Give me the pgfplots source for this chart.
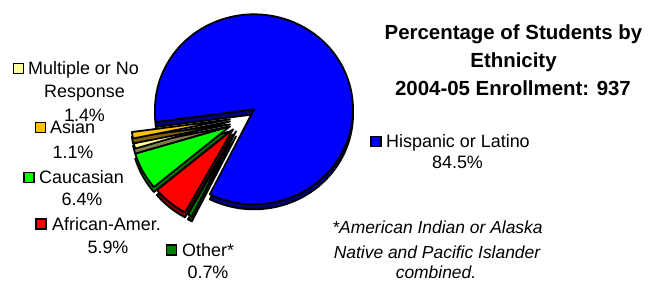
\documentclass[border=0pt]{standalone}
\usepackage{pgfplots}
\pgfplotsset{compat=1.18}
\usepackage{fontspec}
\setmainfont{Liberation Sans}
\definecolor{cHisp}{RGB}{0,0,255}
\definecolor{sHisp}{RGB}{0,0,120}
\definecolor{cAsian}{RGB}{255,192,0}
\definecolor{sAsian}{RGB}{128,96,0}
\definecolor{cMult}{RGB}{255,255,153}
\definecolor{sMult}{RGB}{128,128,76}
\definecolor{cCauc}{RGB}{0,255,0}
\definecolor{sCauc}{RGB}{0,120,0}
\definecolor{cAfr}{RGB}{255,0,0}
\definecolor{sAfr}{RGB}{128,0,0}
\definecolor{cOther}{RGB}{0,128,0}
\definecolor{sOther}{RGB}{0,64,0}
% data (percent)
\def\pHisp{84.5}
\def\pAsian{1.1}
\def\pMult{1.4}
\def\pCauc{6.4}
\def\pAfr{5.9}
\def\pOther{0.7}
\pgfmathsetmacro\aA{187.7}
\pgfmathsetmacro\aB{\aA+3.6*\pAsian}
\pgfmathsetmacro\aC{\aB+3.6*\pMult}
\pgfmathsetmacro\aD{\aC+3.6*\pCauc}
\pgfmathsetmacro\aE{\aD+3.6*\pAfr}
\pgfmathsetmacro\aF{\aE+3.6*\pOther}
\pgfmathsetmacro\aG{\aF+3.6*\pHisp}
\newcommand\lab{\fontsize{18}{20}\selectfont}
\newcommand\ttl{\fontsize{20.5}{23}\selectfont\bfseries}
\newcommand\fnt{\fontsize{17.5}{20}\selectfont\itshape}
% dx dy start end fill shadow
\newcommand\slice[6]{%
 \filldraw[fill=#6, draw=black, line width=1.8bp, line join=round] (axis cs:{254+#1},{104+#2+5}) -- ++(#3:99bp and 95bp) arc[start angle=#3, end angle=#4, x radius=99bp, y radius=95bp] -- cycle;
 \filldraw[fill=#5, draw=black, line width=1.8bp, line join=round] (axis cs:{254+#1},{104+#2}) -- ++(#3:99bp and 95bp) arc[start angle=#3, end angle=#4, x radius=99bp, y radius=95bp] -- cycle;
}
\newcommand\key[3]{\filldraw[fill=#3, draw=black, line width=1.5bp] (axis cs:{#1-5},{#2-5}) rectangle (axis cs:{#1+5},{#2+5});}
\begin{document}
\begin{tikzpicture}
\begin{axis}[
  scale only axis, width=652bp, height=276bp,
  xmin=0, xmax=652, ymin=0, ymax=276, y dir=reverse,
  axis line style={draw=none}, xtick=\empty, ytick=\empty,
  clip=false]
\slice{0}{0}{\aF}{\aG}{cHisp}{sHisp}
\slice{-18}{22}{\aE}{\aF}{cOther}{sOther}
\slice{-21}{20}{\aD}{\aE}{cAfr}{sAfr}
\slice{-24}{17}{\aC}{\aD}{cCauc}{sCauc}
\slice{-24}{12}{\aB}{\aC}{cMult}{sMult}
\slice{-24}{10}{\aA}{\aB}{cAsian}{sAsian}
% title
\node[anchor=base, font=\ttl] at (axis cs:513.5,34.5) {Percentage of Students by};
\node[anchor=base, font=\ttl] at (axis cs:513.5,62.5) {Ethnicity};
\node[anchor=base, font=\ttl] at (axis cs:513,90.5) {2004-05 Enrollment: 937};
% labels
\key{376}{136}{cHisp}
\node[anchor=base west, font=\lab, inner sep=0] at (axis cs:386,142) {Hispanic or Latino};
\node[anchor=base, font=\lab, inner sep=0] at (axis cs:457.5,163) {84.5\%};
\key{18.5}{63}{cMult}
\node[anchor=base west, font=\lab, inner sep=0] at (axis cs:28,69) {Multiple or No};
\node[anchor=base, font=\lab, inner sep=0] at (axis cs:84.5,92) {Response};
\node[anchor=base, font=\lab, inner sep=0] at (axis cs:84.5,116) {1.4\%};
\key{40.5}{122}{cAsian}
\node[anchor=base west, font=\lab, inner sep=0] at (axis cs:50,128) {Asian};
\node[anchor=base, font=\lab, inner sep=0] at (axis cs:73,153) {1.1\%};
\key{29}{172}{cCauc}
\node[anchor=base west, font=\lab, inner sep=0] at (axis cs:39,178) {Caucasian};
\node[anchor=base, font=\lab, inner sep=0] at (axis cs:82,200) {6.4\%};
\key{41}{218.5}{cAfr}
\node[anchor=base west, font=\lab, inner sep=0] at (axis cs:52,225) {African-Amer.};
\node[anchor=base, font=\lab, inner sep=0] at (axis cs:108,248) {5.9\%};
\key{171.5}{244.5}{cOther}
\node[anchor=base west, font=\lab, inner sep=0] at (axis cs:182,251) {Other*};
\node[anchor=base, font=\lab, inner sep=0] at (axis cs:208,273.5) {0.7\%};
% footnote
\node[anchor=base, font=\fnt, inner sep=0] at (axis cs:437.5,228) {*American Indian or Alaska};
\node[anchor=base, font=\fnt, inner sep=0] at (axis cs:437,253) {Native and Pacific Islander};
\node[anchor=base, font=\fnt, inner sep=0] at (axis cs:436,273) {combined.};
\end{axis}
\end{tikzpicture}
\end{document}
